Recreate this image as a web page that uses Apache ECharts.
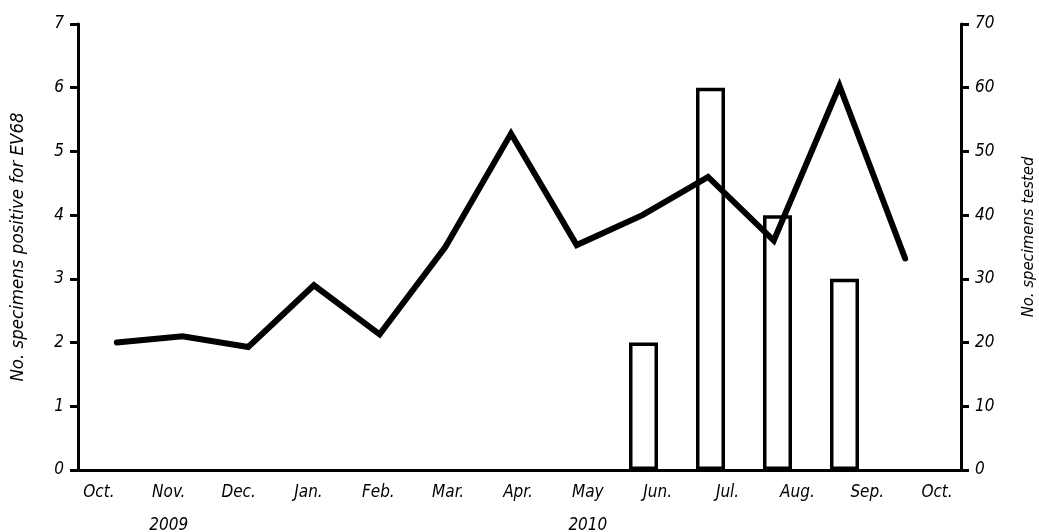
<!DOCTYPE html>
<html>
<head>
<meta charset="utf-8">
<script src="https://cdn.jsdelivr.net/npm/echarts@6/dist/echarts.min.js"></script>
<style>html,body{margin:0;background:#fff}#chart{width:1039px;height:532px}</style>
</head>
<body>
<div id="chart"></div>
<script>
// months of the surveillance period, Oct 2009 - Oct 2010
const months = ['Oct.', 'Nov.', 'Dec.', 'Jan.', 'Feb.', 'Mar.', 'Apr.', 'May', 'Jun.', 'Jul.', 'Aug.', 'Sep.', 'Oct.'];
const years = ['', '2009', '', '', '', '', '', '2010', '', '', '', '', ''];
// bars: no. specimens positive for EV68 (left axis)
const positive = ['-', '-', '-', '-', '-', '-', '-', '-', 2, 6, 4, 3, '-'];
// line: no. specimens tested (right axis)
const tested = [20, 21, 19.3, 29, 21.3, 35, 52.8, 35.3, 40, 46, 36, 60.3, 33.2];

const font = "'Liberation Sans Narrow', 'DejaVu Sans Condensed', sans-serif";
const txt = { color: '#000', fontFamily: font, fontStyle: 'italic', fontSize: 17 };
const blackLine = { color: '#000', width: 3 };

const myChart = echarts.init(document.getElementById('chart'));
const hiddenX = (grid) => ({ type: 'category', gridIndex: grid, data: months, show: false });
const hiddenY = (grid, max) => ({ type: 'value', gridIndex: grid, min: 0, max: max, show: false });
const box = (left, width) => ({ left: left, width: width, top: 24, height: 446, outerBoundsMode: 'none', containLabel: false });

myChart.setOption({
    backgroundColor: '#fff',
    animation: false,
    grid: [
        box(78, 883),   // frame + axes
        box(74, 871),   // bars
        box(84, 854),   // line
        box(64, 908)    // month labels
    ],
    xAxis: [
        { type: 'category', gridIndex: 0, data: months, boundaryGap: true,
          axisLine: { lineStyle: blackLine }, axisTick: { show: false }, axisLabel: { show: false } },
        hiddenX(1),
        hiddenX(2),
        { type: 'category', gridIndex: 3, data: months, boundaryGap: true,
          axisLine: { show: false }, axisTick: { show: false },
          axisLabel: Object.assign({}, txt, {
              margin: 6, lineHeight: 33, interval: 0,
              formatter: (v, i) => years[i] ? v + '\n' + years[i] : v
          }) }
    ],
    yAxis: [
        { type: 'value', gridIndex: 0, min: 0, max: 7, interval: 1, position: 'left',
          name: 'No. specimens positive for EV68', nameLocation: 'middle', nameGap: 50, nameRotate: 90,
          nameTextStyle: Object.assign({}, txt, { fontSize: 18.5 }),
          axisLine: { show: true, lineStyle: blackLine },
          axisTick: { show: true, length: 8, lineStyle: blackLine },
          axisLabel: Object.assign({}, txt, { margin: 14 }),
          splitLine: { show: false } },
        { type: 'value', gridIndex: 0, min: 0, max: 70, interval: 10, position: 'right',
          name: 'No. specimens tested', nameLocation: 'middle', nameGap: 59, nameRotate: 90,
          nameTextStyle: Object.assign({}, txt, { fontSize: 16.5, padding: [0, 0, 0, 20] }),
          axisLine: { show: true, lineStyle: blackLine },
          axisTick: { show: true, length: 8, lineStyle: blackLine },
          axisLabel: Object.assign({}, txt, { margin: 14 }),
          splitLine: { show: false } },
        hiddenY(1, 7),
        hiddenY(2, 70),
        hiddenY(3, 7)
    ],
    series: [
        {
            name: 'Positive for EV68', type: 'bar', xAxisIndex: 1, yAxisIndex: 2,
            data: positive, barWidth: 29,
            itemStyle: { color: '#fff', borderColor: '#000', borderWidth: 3.5 }
        },
        {
            name: 'Specimens tested', type: 'line', xAxisIndex: 2, yAxisIndex: 3,
            data: tested, symbol: 'none',
            lineStyle: { color: '#000', width: 6, join: 'miter', cap: 'round' }
        }
    ]
});
</script>
</body>
</html>
